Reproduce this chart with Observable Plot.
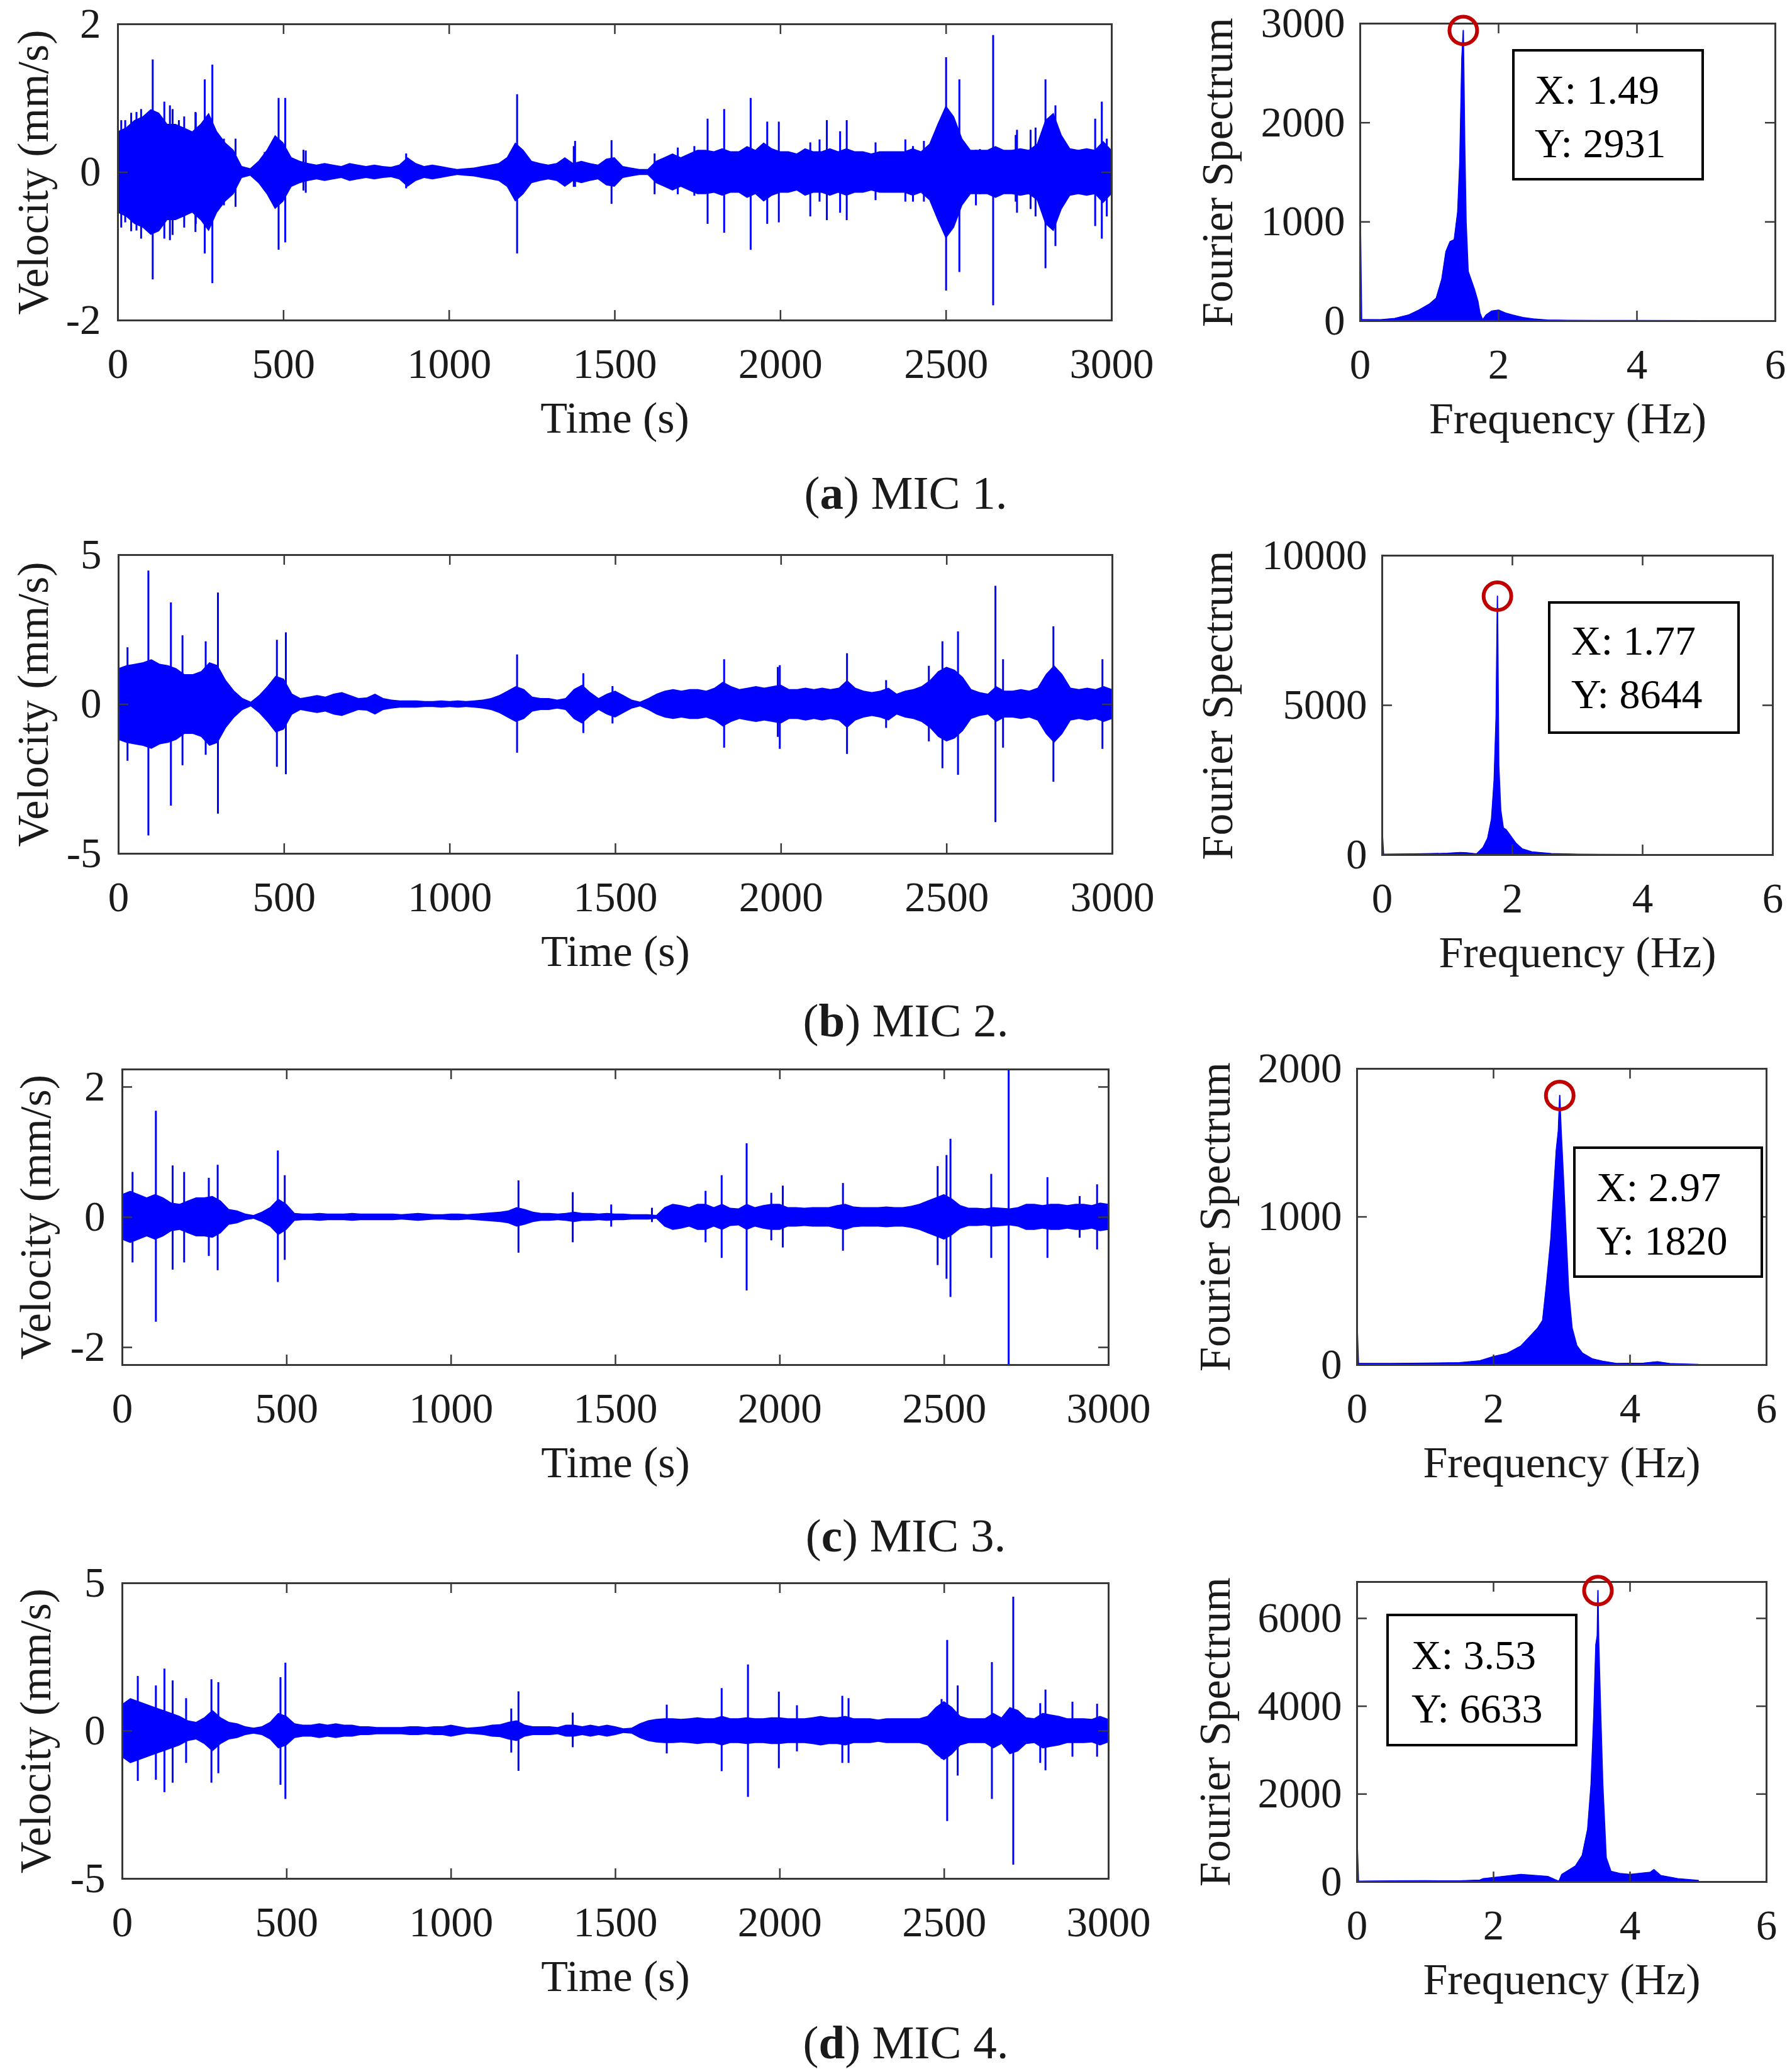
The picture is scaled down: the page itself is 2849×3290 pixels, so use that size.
<!DOCTYPE html>
<html>
<head>
<meta charset="utf-8">
<script src="https://cdn.jsdelivr.net/npm/d3@7"></script>
<script src="https://cdn.jsdelivr.net/npm/@observablehq/plot@0.6"></script>
<style>
html, body { margin: 0; background: #fff; }
#page { position: relative; width: 2849px; height: 3290px; overflow: hidden; font-family: "Liberation Serif", "Times New Roman", serif; color: #1a1a1a; }
#page > svg { position: absolute; }
.caption { position: absolute; white-space: nowrap; font-size: 75px; line-height: 1; transform: translate(-50%, -50%); }
.tipbox { position: absolute; border: 4px solid #000; background: #fff; box-sizing: border-box; }
.tiptext { position: absolute; font-size: 66px; line-height: 85px; white-space: nowrap; color: #000; }
</style>
</head>
<body>
<div id="page"></div>
<script>

const timeTicks = [0, 500, 1000, 1500, 2000, 2500, 3000];
const freqTicks = [0, 2, 4, 6];
const step = 25; // s between envelope readings

// velocity envelope (mm/s), one reading every 25 s from 0 to 3000 s
const bodyA = [
	0.55, 0.6, 0.7, 0.75, 0.85, 0.8, 0.65, 0.65, 0.6, 0.55,
	0.65, 0.8, 0.55, 0.4, 0.3, 0.08, 0.05, 0.15, 0.3, 0.5,
	0.4, 0.2, 0.15, 0.12, 0.1, 0.12, 0.1, 0.08, 0.12, 0.1,
	0.08, 0.1, 0.08, 0.07, 0.1, 0.2, 0.12, 0.08, 0.1, 0.08,
	0.06, 0.04, 0.05, 0.06, 0.08, 0.1, 0.12, 0.2, 0.4, 0.3,
	0.15, 0.12, 0.1, 0.12, 0.2, 0.12, 0.15, 0.12, 0.1, 0.18,
	0.2, 0.08, 0.06, 0.04, 0.04, 0.15, 0.2, 0.25, 0.2, 0.25,
	0.3, 0.3, 0.28, 0.32, 0.28, 0.28, 0.35, 0.3, 0.4, 0.32,
	0.28, 0.28, 0.25, 0.32, 0.28, 0.28, 0.32, 0.28, 0.32, 0.28,
	0.28, 0.25, 0.28, 0.28, 0.28, 0.28, 0.32, 0.28, 0.38, 0.65,
	0.9, 0.75, 0.45, 0.3, 0.3, 0.3, 0.35, 0.3, 0.3, 0.32,
	0.3, 0.38, 0.7, 0.8, 0.5, 0.32, 0.3, 0.32, 0.3, 0.42,
	0.3
];
const bodyB = [
	1.2, 1.3, 1.35, 1.4, 1.5, 1.35, 1.3, 1.2, 1.0, 1.0,
	1.1, 1.4, 1.3, 0.8, 0.45, 0.2, 0.08, 0.3, 0.6, 0.95,
	0.85, 0.35, 0.2, 0.25, 0.3, 0.25, 0.35, 0.4, 0.3, 0.2,
	0.22, 0.35, 0.2, 0.15, 0.12, 0.12, 0.12, 0.1, 0.1, 0.12,
	0.1, 0.12, 0.1, 0.12, 0.15, 0.2, 0.3, 0.45, 0.6, 0.5,
	0.25, 0.2, 0.2, 0.15, 0.2, 0.5, 0.65, 0.4, 0.2, 0.35,
	0.45, 0.3, 0.15, 0.08, 0.2, 0.35, 0.45, 0.5, 0.45, 0.5,
	0.5, 0.45, 0.55, 0.75, 0.6, 0.5, 0.55, 0.6, 0.55, 0.6,
	0.65, 0.5, 0.5, 0.55, 0.5, 0.55, 0.5, 0.55, 0.8, 0.55,
	0.45, 0.4, 0.45, 0.55, 0.35, 0.45, 0.5, 0.6, 0.8, 1.1,
	1.25, 1.15, 0.9, 0.5, 0.4, 0.35, 0.6, 0.45, 0.45, 0.5,
	0.45, 0.55, 1.0, 1.3, 1.0, 0.55, 0.5, 0.55, 0.5, 0.6,
	0.5
];
const bodyC = [
	0.35, 0.4, 0.35, 0.3, 0.35, 0.3, 0.22, 0.2, 0.25, 0.3,
	0.3, 0.32, 0.25, 0.12, 0.1, 0.05, 0.03, 0.08, 0.15, 0.28,
	0.2, 0.06, 0.05, 0.05, 0.06, 0.05, 0.05, 0.05, 0.06, 0.05,
	0.05, 0.05, 0.05, 0.05, 0.04, 0.05, 0.06, 0.05, 0.04, 0.04,
	0.05, 0.05, 0.04, 0.05, 0.06, 0.07, 0.08, 0.1, 0.15, 0.12,
	0.08, 0.06, 0.06, 0.05, 0.06, 0.08, 0.06, 0.06, 0.05, 0.06,
	0.05, 0.05, 0.04, 0.04, 0.04, 0.03, 0.15, 0.2, 0.18, 0.15,
	0.2, 0.2, 0.15, 0.2, 0.14, 0.13, 0.2, 0.15, 0.18, 0.2,
	0.2, 0.15, 0.15, 0.14, 0.15, 0.15, 0.15, 0.18, 0.2, 0.16,
	0.15, 0.15, 0.15, 0.16, 0.15, 0.15, 0.17, 0.2, 0.25, 0.3,
	0.35, 0.28, 0.18, 0.14, 0.14, 0.13, 0.15, 0.14, 0.13, 0.15,
	0.2, 0.2, 0.18, 0.2, 0.2, 0.18, 0.2, 0.2, 0.18, 0.22,
	0.2
];
const bodyD = [
	0.9, 1.1, 1.0, 0.9, 0.8, 0.7, 0.6, 0.5, 0.35, 0.3,
	0.45, 0.7, 0.45, 0.3, 0.25, 0.15, 0.1, 0.15, 0.3, 0.6,
	0.5, 0.25, 0.2, 0.2, 0.25, 0.2, 0.25, 0.2, 0.2, 0.15,
	0.15, 0.12, 0.12, 0.12, 0.12, 0.15, 0.15, 0.12, 0.15, 0.15,
	0.2, 0.15, 0.1, 0.12, 0.15, 0.2, 0.22, 0.3, 0.35, 0.2,
	0.15, 0.15, 0.15, 0.12, 0.2, 0.2, 0.15, 0.2, 0.15, 0.2,
	0.15, 0.08, 0.1, 0.25, 0.35, 0.4, 0.42, 0.42, 0.4, 0.42,
	0.45, 0.42, 0.42, 0.5, 0.42, 0.42, 0.45, 0.42, 0.42, 0.45,
	0.45, 0.42, 0.42, 0.42, 0.45, 0.5, 0.45, 0.45, 0.5, 0.42,
	0.42, 0.42, 0.38, 0.42, 0.42, 0.42, 0.42, 0.42, 0.5, 0.8,
	1.0, 0.8, 0.5, 0.42, 0.42, 0.42, 0.6, 0.45, 0.8, 0.7,
	0.45, 0.42, 0.6, 0.55, 0.5, 0.42, 0.42, 0.42, 0.4, 0.5,
	0.4
];

// isolated bursts: [time s, peak up, peak down]
const spikesA = [
	[10, 0.7, -0.75], [22, 0.7, -0.68], [40, 0.8, -0.8], [56, 0.81, -0.79], [70, 0.85, -0.9],
	[105, 1.52, -1.45], [140, 0.95, -0.9], [157, 0.9, -0.92], [165, 0.85, -0.85], [184, 0.7, -0.6],
	[200, 0.75, -0.75], [234, 0.81, -0.81], [235, 0.8, -0.7], [262, 1.25, -1.1], [285, 1.45, -1.5],
	[320, 0.45, -0.45], [355, 0.45, -0.47], [443, 0.27, -0.25], [485, 1.0, -1.05], [505, 1.0, -0.95],
	[560, 0.3, -0.25], [567, 0.29, -0.28], [870, 0.25, -0.22], [1205, 1.05, -1.1], [1376, 0.35, -0.2],
	[1380, 0.42, -0.2], [1490, 0.43, -0.43], [1620, 0.25, -0.3], [1690, 0.33, -0.3], [1740, 0.35, -0.32],
	[1780, 0.72, -0.7], [1830, 0.85, -0.82], [1910, 1.0, -1.05], [1960, 0.68, -0.7], [1995, 0.68, -0.68],
	[2090, 0.4, -0.6], [2118, 0.44, -0.4], [2140, 0.7, -0.65], [2180, 0.55, -0.55], [2200, 0.7, -0.65],
	[2287, 0.4, -0.38], [2377, 0.44, -0.4], [2400, 0.35, -0.4], [2433, 0.42, -0.4], [2500, 1.55, -1.6],
	[2540, 1.25, -1.35], [2590, 0.3, -0.45], [2602, 0.31, -0.3], [2642, 1.85, -1.8], [2710, 0.5, -0.4],
	[2714, 0.57, -0.55], [2755, 0.57, -0.5], [2770, 0.6, -0.6], [2800, 1.25, -1.3], [2830, 0.9, -1.0],
	[2950, 0.72, -0.73], [2970, 0.95, -0.9], [2985, 0.45, -0.6]
];
const spikesB = [
	[27, 1.9, -1.9], [90, 4.47, -4.4], [158, 3.4, -3.4], [193, 2.3, -2.05], [263, 2.1, -1.7],
	[300, 3.73, -3.67], [478, 2.15, -2.1], [505, 2.4, -2.35], [1203, 1.66, -1.63], [1403, 1.03, -0.97],
	[1491, 0.6, -0.65], [1828, 1.5, -1.46], [1990, 1.24, -1.1], [1996, 1.3, -1.5], [2199, 1.7, -1.67],
	[2317, 0.8, -0.8], [2446, 1.28, -1.25], [2487, 2.1, -2.15], [2534, 2.43, -2.37], [2647, 3.96, -3.95],
	[2670, 1.5, -1.46], [2822, 2.6, -2.6], [2970, 1.5, -1.5]
];
const spikesC = [
	[31, 0.69, -0.7], [102, 1.63, -1.61], [153, 0.79, -0.81], [188, 0.69, -0.7], [263, 0.6, -0.6],
	[290, 0.8, -0.82], [473, 1.02, -1.0], [494, 0.64, -0.66], [1205, 0.56, -0.55], [1370, 0.38, -0.39],
	[1487, 0.19, -0.15], [1611, 0.14, -0.08], [1774, 0.4, -0.39], [1823, 0.64, -0.63], [1899, 1.13, -1.13],
	[1974, 0.37, -0.36], [2009, 0.48, -0.47], [2192, 0.52, -0.52], [2480, 0.78, -0.74], [2507, 0.95, -0.95],
	[2519, 1.2, -1.23], [2643, 0.66, -0.63], [2696, 2.27, -2.27], [2814, 0.61, -0.63], [2912, 0.32, -0.32],
	[2965, 0.5, -0.5]
];
const spikesD = [
	[47, 1.85, -1.7], [102, 1.53, -1.66], [128, 2.1, -2.08], [153, 1.7, -1.76], [194, 1.1, -1.09],
	[271, 1.74, -1.76], [292, 1.64, -1.44], [481, 1.81, -1.83], [496, 2.3, -2.31], [1183, 0.75, -0.74],
	[1205, 1.33, -1.36], [1370, 0.61, -0.56], [1656, 0.88, -0.77], [1823, 1.44, -1.37], [1903, 2.24, -2.24],
	[1997, 1.32, -1.27], [2052, 0.86, -0.7], [2190, 1.18, -1.09], [2209, 1.1, -1.09], [2492, 1.07, -0.95],
	[2509, 3.07, -3.06], [2541, 1.53, -1.52], [2645, 2.32, -2.31], [2710, 4.53, -4.53], [2792, 0.93, -1.09],
	[2808, 1.39, -1.34], [2890, 0.98, -0.88], [2965, 0.91, -0.88]
];

// Fourier spectrum envelopes: frequency (Hz) and amplitude
const freqA = [0, 0.02, 0.3, 0.5, 0.7, 0.85, 1.0, 1.1, 1.18, 1.24, 1.3, 1.36, 1.41, 1.44, 1.47, 1.49, 1.51, 1.53, 1.56, 1.6, 1.65, 1.7, 1.73, 1.77, 1.82, 1.9, 2.0, 2.1, 2.2, 2.35, 2.5, 2.7, 3.0, 4.0, 5.0];
const specA = [1150, 15, 12, 25, 60, 110, 170, 230, 420, 700, 800, 820, 1100, 1600, 2650, 2931, 1800, 1000, 500, 420, 320, 200, 80, 10, 60, 100, 110, 80, 60, 35, 20, 10, 6, 4, 3];
const freqB = [0, 0.02, 0.5, 1.0, 1.2, 1.3, 1.45, 1.55, 1.62, 1.68, 1.72, 1.75, 1.77, 1.79, 1.82, 1.86, 1.9, 1.95, 2.0, 2.05, 2.15, 2.3, 2.6, 3.0, 4.0, 5.0];
const specB = [790, 20, 30, 50, 80, 70, 30, 250, 550, 1200, 2500, 4600, 8644, 3000, 1500, 900, 850, 700, 550, 400, 200, 100, 40, 20, 10, 8];
const freqC = [0, 0.02, 0.5, 1.0, 1.5, 1.8, 2.0, 2.2, 2.4, 2.55, 2.65, 2.72, 2.78, 2.84, 2.88, 2.92, 2.95, 2.97, 2.99, 3.02, 3.06, 3.1, 3.15, 3.22, 3.3, 3.45, 3.6, 3.8, 4.2, 4.4, 4.6, 5.0];
const specC = [282, 10, 10, 12, 15, 28, 56, 78, 127, 200, 250, 300, 560, 850, 1150, 1450, 1580, 1820, 1580, 1300, 900, 500, 250, 130, 80, 40, 25, 10, 12, 21, 8, 3];
const freqD = [0, 0.02, 0.5, 1.0, 1.5, 1.8, 1.85, 2.0, 2.4, 2.8, 2.93, 2.96, 3.0, 3.2, 3.3, 3.38, 3.43, 3.47, 3.5, 3.52, 3.53, 3.54, 3.57, 3.6, 3.65, 3.72, 3.85, 4.0, 4.3, 4.35, 4.45, 4.7, 5.0];
const specD = [981, 15, 20, 25, 20, 40, 72, 96, 167, 120, 30, 14, 167, 359, 600, 1200, 2225, 3800, 5400, 5600, 6633, 5500, 3800, 2225, 550, 239, 190, 167, 220, 280, 144, 72, 34];

// data tips
const peaks = [
	{f: 1.49, a: 2931},
	{f: 1.77, a: 8644},
	{f: 2.97, a: 1820},
	{f: 3.53, a: 6633}
];

const panels = [
	{tag: 'a', name: 'MIC 1.', body: bodyA, spikes: spikesA, vTicks: [-2, 0, 2], vDomain: [-2, 2],
	 freq: freqA, spec: specA, sTicks: [0, 1000, 2000, 3000], sDomain: [0, 3000]},
	{tag: 'b', name: 'MIC 2.', body: bodyB, spikes: spikesB, vTicks: [-5, 0, 5], vDomain: [-5, 5],
	 freq: freqB, spec: specB, sTicks: [0, 5000, 10000], sDomain: [0, 10000]},
	{tag: 'c', name: 'MIC 3.', body: bodyC, spikes: spikesC, vTicks: [-2, 0, 2], vDomain: [-2.27, 2.27],
	 freq: freqC, spec: specC, sTicks: [0, 1000, 2000], sDomain: [0, 2000]},
	{tag: 'd', name: 'MIC 4.', body: bodyD, spikes: spikesD, vTicks: [-5, 0, 5], vDomain: [-5, 5],
	 freq: freqD, spec: specD, sTicks: [0, 2000, 4000, 6000], sDomain: [0, 6830]}
];

// page layout, in px
const layout = [
	{time: {l: 187, r: 1767, t: 38, b: 509}, freq: {l: 2162, r: 2822, t: 37, b: 510}, vdx: -134, fdx: -226,
	 tip: {l: 2404, t: 78, w: 305, h: 209, tl: 2440, base: 165}, cap: 783},
	{time: {l: 188, r: 1768, t: 882, b: 1357}, freq: {l: 2197, r: 2818, t: 883, b: 1359}, vdx: -135, fdx: -261,
	 tip: {l: 2461, t: 956, w: 305, h: 211, tl: 2498, base: 1041}, cap: 1622},
	{time: {l: 194, r: 1762, t: 1700, b: 2170}, freq: {l: 2157, r: 2808, t: 1699, b: 2170}, vdx: -137, fdx: -225,
	 tip: {l: 2501, t: 1823, w: 302, h: 209, tl: 2538, base: 1910}, cap: 2441},
	{time: {l: 194, r: 1762, t: 2517, b: 2987}, freq: {l: 2157, r: 2808, t: 2515, b: 2992}, vdx: -137, fdx: -225,
	 tip: {l: 2204, t: 2566, w: 304, h: 211, tl: 2244, base: 2654}, cap: 3247}
];

const blue = '#0000ff';
const ink = '#1a1a1a';
const edge = '#383838';
const page = document.getElementById('page');

function boxMarks(xt, yt, iw, ih) {
	const k = 16, s = {stroke: edge, strokeWidth: 2.5};
	return [
		Plot.ruleX(xt, {...s, insetTop: ih - k}),
		Plot.ruleX(xt, {...s, insetBottom: ih - k}),
		Plot.ruleY(yt, {...s, insetRight: iw - k}),
		Plot.ruleY(yt, {...s, insetLeft: iw - k}),
		Plot.frame({stroke: edge, strokeWidth: 3})
	];
}

function labelMarks(xLabel, yLabel, ydx) {
	return [
		Plot.text([xLabel], {text: d => d, frameAnchor: 'bottom', dy: 178, fontSize: 70, fill: ink}),
		Plot.text([yLabel], {text: d => d, frameAnchor: 'left', textAnchor: 'middle', rotate: -90, dx: ydx, fontSize: 70, fill: ink})
	];
}

function place(svg, x0, y0) {
	svg.style.left = x0 + 'px';
	svg.style.top = y0 + 'px';
	page.append(svg);
}

const plotStyle = {fontFamily: "'Liberation Serif', 'Times New Roman', serif", fontSize: '67px', color: ink, background: 'transparent', overflow: 'visible'};

panels.forEach((P, i) => {
	const L = layout[i];

	// velocity time history
	const f = L.time;
	const rows = P.body.map((a, j) => ({t: j * step, a}));
	const W = 1850, top = 40, bottom = 220;
	const timePlot = Plot.plot({
		width: W, height: (f.b - f.t) + top + bottom,
		marginLeft: f.l, marginRight: W - f.r, marginTop: top, marginBottom: bottom,
		style: plotStyle,
		x: {domain: [0, 3000], ticks: timeTicks, tickSize: 0, tickPadding: 44, tickFormat: d => String(d), label: null},
		y: {domain: P.vDomain, ticks: P.vTicks, tickSize: 0, tickPadding: 27, tickFormat: d => String(d), label: null},
		marks: [
			Plot.areaY(rows, {x: 't', y1: d => -d.a, y2: 'a', fill: blue}),
			Plot.ruleX(P.spikes, {x: d => d[0], y1: d => d[2], y2: d => d[1], stroke: blue, strokeWidth: 3}),
			...boxMarks(timeTicks, P.vTicks, f.r - f.l, f.b - f.t),
			...labelMarks('Time (s)', 'Velocity (mm/s)', L.vdx)
		]
	});
	place(timePlot, 0, f.t - top);

	// Fourier spectrum
	const g = L.freq;
	const x0 = 1880, FW = 2849 - x0;
	const spec = P.freq.map((fr, j) => ({f: fr, a: P.spec[j]}));
	const freqPlot = Plot.plot({
		width: FW, height: (g.b - g.t) + top + bottom,
		marginLeft: g.l - x0, marginRight: FW - (g.r - x0), marginTop: top, marginBottom: bottom,
		style: plotStyle,
		x: {domain: [0, 6], ticks: freqTicks, tickSize: 0, tickPadding: 44, tickFormat: d => String(d), label: null},
		y: {domain: P.sDomain, ticks: P.sTicks, tickSize: 0, tickPadding: 24, tickFormat: d => String(d), label: null},
		marks: [
			Plot.areaY(spec, {x: 'f', y: 'a', fill: blue}),
			Plot.lineY(spec, {x: 'f', y: 'a', stroke: blue, strokeWidth: 2}),
			...boxMarks(freqTicks, P.sTicks, g.r - g.l, g.b - g.t),
			Plot.dot([peaks[i]], {x: 'f', y: 'a', r: 22, stroke: '#c00000', strokeWidth: 6, fill: 'none'}),
			...labelMarks('Frequency (Hz)', 'Fourier Spectrum', L.fdx)
		]
	});
	place(freqPlot, x0, g.t - top);

	// data tip box
	const T = L.tip;
	const box = document.createElement('div');
	box.className = 'tipbox';
	Object.assign(box.style, {left: T.l + 'px', top: T.t + 'px', width: T.w + 'px', height: T.h + 'px'});
	page.append(box);
	const txt = document.createElement('div');
	txt.className = 'tiptext';
	Object.assign(txt.style, {left: T.tl + 'px', top: (T.base - 65) + 'px'});
	txt.innerHTML = `X: ${peaks[i].f.toFixed(2)}<br>Y: ${peaks[i].a}`;
	page.append(txt);

	// caption
	const cap = document.createElement('div');
	cap.className = 'caption';
	cap.style.left = '1440px';
	cap.style.top = L.cap + 'px';
	cap.innerHTML = `(<b>${P.tag}</b>) ${P.name}`;
	page.append(cap);
});

</script>
</body>
</html>
